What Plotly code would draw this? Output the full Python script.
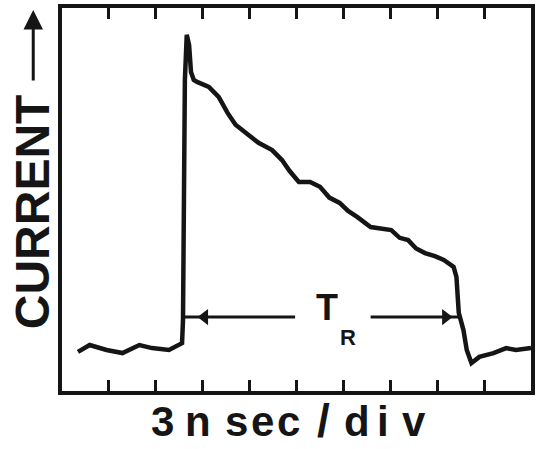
import plotly.graph_objects as go

# time in divisions (3 ns/div), current in arbitrary units
time_div = [0.34, 0.59, 0.95, 1.29, 1.65, 1.92, 2.28, 2.49, 2.56, 2.58, 2.60, 2.62, 2.66,
            2.71, 2.75, 2.81, 2.88, 3.00, 3.13, 3.34, 3.53, 3.70, 3.91, 4.19, 4.48, 4.69,
            4.85, 5.05, 5.29, 5.50, 5.70, 5.92, 6.10, 6.30, 6.58, 6.80, 7.02, 7.20, 7.38,
            7.55, 7.74, 7.95, 8.14, 8.35, 8.41, 8.46, 8.56, 8.63, 8.73, 8.90, 9.20, 9.47,
            9.68, 10.0]
current = [1.02, 1.20, 1.07, 0.99, 1.20, 1.12, 1.07, 1.20, 1.25, 1.85, 4.99, 8.12, 9.30,
           9.03, 8.33, 8.12, 8.07, 8.02, 7.94, 7.68, 7.26, 6.95, 6.74, 6.48, 6.29, 6.03,
           5.75, 5.46, 5.46, 5.33, 5.05, 4.91, 4.70, 4.54, 4.28, 4.25, 4.20, 4.00, 3.94,
           3.72, 3.60, 3.52, 3.42, 3.24, 2.98, 2.04, 1.59, 1.07, 0.73, 0.89, 0.99, 1.12,
           1.07, 1.12]

# T_R marker: span of the pulse
tr_left = [2.56, 4.97]
tr_right = [6.58, 8.46]
tr_level = 1.93
tr_head_left = 3.04
tr_head_right = 8.18

x_label_parts = ["3", "n", "s", "e", "c", "/", "d", "i", "v"]
x_label_pos = [163, 199, 238, 264, 290, 326, 360, 386, 417]  # pixel centres

INK = "#151515"
FONT = "Liberation Sans, Arial, Helvetica, sans-serif"

fig = go.Figure()
fig.add_trace(go.Scatter(x=time_div, y=current, mode="lines",
                         line=dict(color=INK, width=4.5),
                         hoverinfo="skip"))
for seg in (tr_left, tr_right):
    fig.add_trace(go.Scatter(x=seg, y=[tr_level, tr_level], mode="lines",
                             line=dict(color=INK, width=3), hoverinfo="skip"))
fig.add_trace(go.Scatter(x=[tr_head_left], y=[tr_level], mode="markers",
                         marker=dict(symbol="triangle-left", size=14, color=INK),
                         hoverinfo="skip"))
fig.add_trace(go.Scatter(x=[tr_head_right], y=[tr_level], mode="markers",
                         marker=dict(symbol="triangle-right", size=14, color=INK),
                         hoverinfo="skip"))

W, H = 537, 449
L, R, T, B = 62, 2, 8, 58
pw, ph = W - L - R, H - T - B

def px2paper_x(px):
    return (px - L) / pw

def py2paper_y(py):
    return (H - B - py) / ph

annotations = [
    dict(x=5.64, y=2.19, xref="x", yref="y", text="<b>T</b>", showarrow=False,
         xanchor="center", yanchor="middle",
         font=dict(family=FONT, size=36, color=INK)),
    dict(x=6.09, y=1.41, xref="x", yref="y", text="<b>R</b>", showarrow=False,
         xanchor="center", yanchor="middle",
         font=dict(family=FONT, size=22, color=INK)),
    dict(x=px2paper_x(32), y=py2paper_y(212), xref="paper", yref="paper",
         text="<b>CURRENT</b>", textangle=-90, showarrow=False,
         xanchor="center", yanchor="middle",
         font=dict(family=FONT, size=48, color=INK)),
    dict(x=px2paper_x(33), y=py2paper_y(10), xref="paper", yref="paper",
         ax=0, ay=72, text="", showarrow=True, arrowhead=2, arrowsize=1.3,
         arrowwidth=3, arrowcolor=INK),
]
for t, px in zip(x_label_parts, x_label_pos):
    size = 46 if t == "/" else 42
    annotations.append(dict(x=px2paper_x(px), y=py2paper_y(421), xref="paper", yref="paper",
                            text=f"<b>{t}</b>", showarrow=False,
                            xanchor="center", yanchor="middle",
                            font=dict(family=FONT, size=size, color=INK)))

fig.update_layout(
    width=W, height=H,
    margin=dict(l=L, r=R, t=T, b=B),
    paper_bgcolor="white", plot_bgcolor="white",
    showlegend=False,
    annotations=annotations,
    xaxis=dict(range=[0, 10], dtick=1, showgrid=False, zeroline=False,
               showline=True, linewidth=4, linecolor=INK, mirror="ticks",
               ticks="inside", ticklen=11, tickwidth=3, tickcolor=INK,
               showticklabels=False),
    yaxis=dict(range=[0, 10], showgrid=False, zeroline=False,
               showline=True, linewidth=4, linecolor=INK, mirror=True,
               ticks="", showticklabels=False),
)
fig.write_html("out.html")
